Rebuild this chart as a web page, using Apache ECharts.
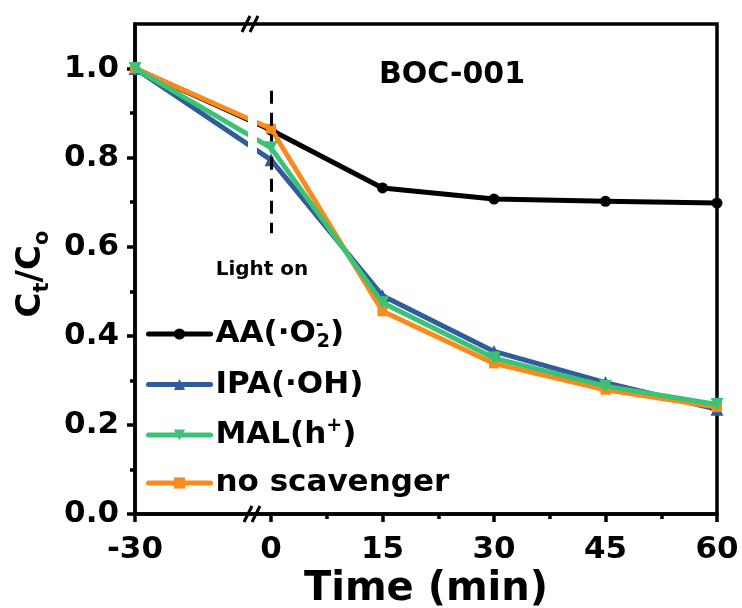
<!DOCTYPE html>
<html>
<head>
<meta charset="utf-8">
<script src="https://cdn.jsdelivr.net/npm/echarts@6/dist/echarts.min.js"></script>
<style>
  html, body { margin: 0; padding: 0; background: #fff; }
  #chart { width: 742px; height: 608px; }
</style>
</head>
<body>
<div id="chart"></div>
<script>
// Sampling times (min): -30 = start of dark adsorption, 0 = light switched on
const times = [-30, 0, 15, 30, 45, 60];
const tickTimes = [-30, 0, 15, 30, 45, 60];
const minorTickTimes = [7.5, 22.5, 37.5, 52.5];
const yTicks = [0, 0.2, 0.4, 0.6, 0.8, 1.0];
const yMinorTicks = [0.1, 0.3, 0.5, 0.7, 0.9];

// Ct/Co for each scavenger
const aaValues = [1.0, 0.862, 0.732, 0.707, 0.702, 0.698];
const ipaValues = [1.0, 0.795, 0.490, 0.365, 0.295, 0.235];
const malValues = [1.0, 0.822, 0.474, 0.350, 0.287, 0.246];
const noScavengerValues = [1.0, 0.865, 0.455, 0.338, 0.279, 0.240];

const seriesNames = ['AA', 'IPA', 'MAL', 'no scavenger'];
const lightOnRange = [0.95, 0.63];

// Broken time axis: the dark period (-30..0) is drawn compressed
const DARK_SCALE = 0.61;
const BREAK_TIME = -4.2;
const axisX = t => (t < 0 ? t * DARK_SCALE : t);
const timeLabel = v => {
  const t = tickTimes.find(tt => Math.abs(axisX(tt) - v) < 1e-6);
  return t === undefined ? '' : String(t);
};

const FONT = '"DejaVu Sans", Verdana, sans-serif';
const colors = ['#000000', '#2f5d9c', '#3cc274', '#fb8a1c'];
const symbols = ['circle', 'triangle', 'triangle', 'rect'];
const symbolRotates = [0, 0, 180, 0];
const symbolSizes = [11, 13, 13, 10];
const seriesValues = [aaValues, ipaValues, malValues, noScavengerValues];
const zOrder = [3, 2, 5, 4];

const legendRich = {
  '0': '{t|AA(·O}{supNarrow|-}{sub|2}{t|)}',
  '1': '{t|IPA(·OH)}',
  '2': '{t|MAL(h}{sup|+}{t|)}',
  '3': '{t|no scavenger}'
};

const chart = echarts.init(document.getElementById('chart'), null, { renderer: 'canvas' });

const grid = { left: 135, right: 25, top: 24, bottom: 94 };
const axisLineStyle = { color: '#000', width: 3.5 };
const labelStyle = { color: '#000', fontSize: 31, fontWeight: 'bold', fontFamily: FONT };
const legendText = { fontWeight: 'bold', fontFamily: FONT, color: '#000' };

const lineSeries = seriesNames.map((name, i) => ({
  name: name,
  type: 'line',
  xAxisIndex: 0,
  yAxisIndex: 0,
  data: times.map((t, k) => [axisX(t), seriesValues[i][k]]),
  symbol: symbols[i],
  symbolRotate: symbolRotates[i],
  symbolSize: symbolSizes[i],
  showAllSymbol: true,
  lineStyle: { color: colors[i], width: 5, cap: 'round', join: 'round' },
  itemStyle: { color: colors[i] },
  z: zOrder[i],
  animation: false
}));

// dashed "light on" marker at t = 0
lineSeries[0].markLine = {
  silent: true,
  symbol: ['none', 'none'],
  label: { show: false },
  lineStyle: { color: '#000', width: 3, type: [13, 9] },
  data: [[{ coord: [0, lightOnRange[0]] }, { coord: [0, lightOnRange[1]] }]]
};

chart.setOption({
  backgroundColor: '#fff',
  animation: false,
  grid: Object.assign({
    show: true, borderColor: '#000', borderWidth: 3.5, backgroundColor: 'transparent',
    containLabel: false, outerBoundsMode: 'none'
  }, grid),
  title: [
    { text: 'BOC-001', left: 447, top: 55, textAlign: 'center',
      textStyle: { color: '#000', fontSize: 30, fontWeight: 'bold', fontFamily: FONT } },
    { text: 'Light on', left: 257, top: 255, textAlign: 'center',
      textStyle: { color: '#000', fontSize: 20, fontWeight: 'bold', fontFamily: FONT } }
  ],
  legend: {
    data: seriesNames,
    orient: 'vertical',
    left: 141,
    top: 311,
    itemWidth: 62,
    itemHeight: 14,
    itemGap: 17,
    lineStyle: { width: 'inherit', cap: 'round' },
    formatter: name => legendRich[String(seriesNames.indexOf(name))],
    textStyle: {
      color: '#000',
      rich: {
        t: Object.assign({ fontSize: 31, lineHeight: 36 }, legendText),
        sup: Object.assign({ fontSize: 19, lineHeight: 18, verticalAlign: 'top' }, legendText),
        supNarrow: Object.assign({ fontSize: 19, lineHeight: 18, verticalAlign: 'top', width: 1 }, legendText),
        sub: Object.assign({ fontSize: 19, lineHeight: 18, verticalAlign: 'bottom' }, legendText)
      }
    }
  },
  xAxis: [
    {
      type: 'value',
      min: axisX(-30),
      max: 60,
      axisLine: { onZero: false, lineStyle: axisLineStyle },
      axisTick: { show: true, customValues: tickTimes.map(axisX), length: 8, lineStyle: axisLineStyle },
      axisLabel: Object.assign({ customValues: tickTimes.map(axisX), formatter: timeLabel, margin: 20 }, labelStyle),
      splitLine: { show: false },
      name: 'Time (min)',
      nameLocation: 'middle',
      nameGap: 47,
      nameTextStyle: { color: '#000', fontSize: 40, fontWeight: 'bold', fontFamily: FONT }
    },
    {
      type: 'value',
      min: axisX(-30),
      max: 60,
      position: 'bottom',
      axisLine: { show: false, onZero: false },
      axisTick: { show: true, customValues: minorTickTimes, length: 5, lineStyle: axisLineStyle },
      axisLabel: { show: false },
      splitLine: { show: false }
    }
  ],
  yAxis: [
    {
      type: 'value',
      min: 0,
      max: 1.1,
      axisLine: { onZero: false, lineStyle: axisLineStyle },
      axisTick: { show: true, customValues: yTicks, length: 8, lineStyle: axisLineStyle },
      axisLabel: Object.assign({ customValues: yTicks, formatter: v => v.toFixed(1), margin: 16 }, labelStyle),
      splitLine: { show: false },
      name: '{b|C}{s|t}{b|/C}{s|o}',
      nameLocation: 'middle',
      nameGap: 80,
      nameTextStyle: {
        color: '#000',
        padding: [0, 10, 0, 0],
        rich: {
          b: { fontSize: 34, fontWeight: 'bold', fontFamily: FONT, lineHeight: 44, color: '#000' },
          s: { fontSize: 21, fontWeight: 'bold', fontFamily: FONT, lineHeight: 21, verticalAlign: 'bottom', color: '#000' }
        }
      }
    },
    {
      type: 'value',
      min: 0,
      max: 1.1,
      position: 'left',
      axisLine: { show: false, onZero: false },
      axisTick: { show: true, customValues: yMinorTicks, length: 5, lineStyle: axisLineStyle },
      axisLabel: { show: false },
      splitLine: { show: false }
    }
  ],
  series: lineSeries
});

// Axis-break decoration: a white gap through the curves and "//" marks on both frame lines
const bx = chart.convertToPixel({ xAxisIndex: 0 }, axisX(BREAK_TIME));
const yTop = grid.top;
const yBottom = 608 - grid.bottom;
const slash = (cx, cy) => [-4, 4].map(dx => ({
  type: 'line',
  z: 100,
  shape: { x1: cx + dx - 4, y1: cy + 8, x2: cx + dx + 4, y2: cy - 8 },
  style: { stroke: '#000', lineWidth: 3 }
}));
chart.setOption({
  graphic: [
    { type: 'rect', z: 90, shape: { x: bx - 4, y: yTop + 3, width: 9, height: 210 }, style: { fill: '#fff' } }
  ].concat(slash(bx - 2, yTop), slash(bx, yBottom))
});
</script>
</body>
</html>
